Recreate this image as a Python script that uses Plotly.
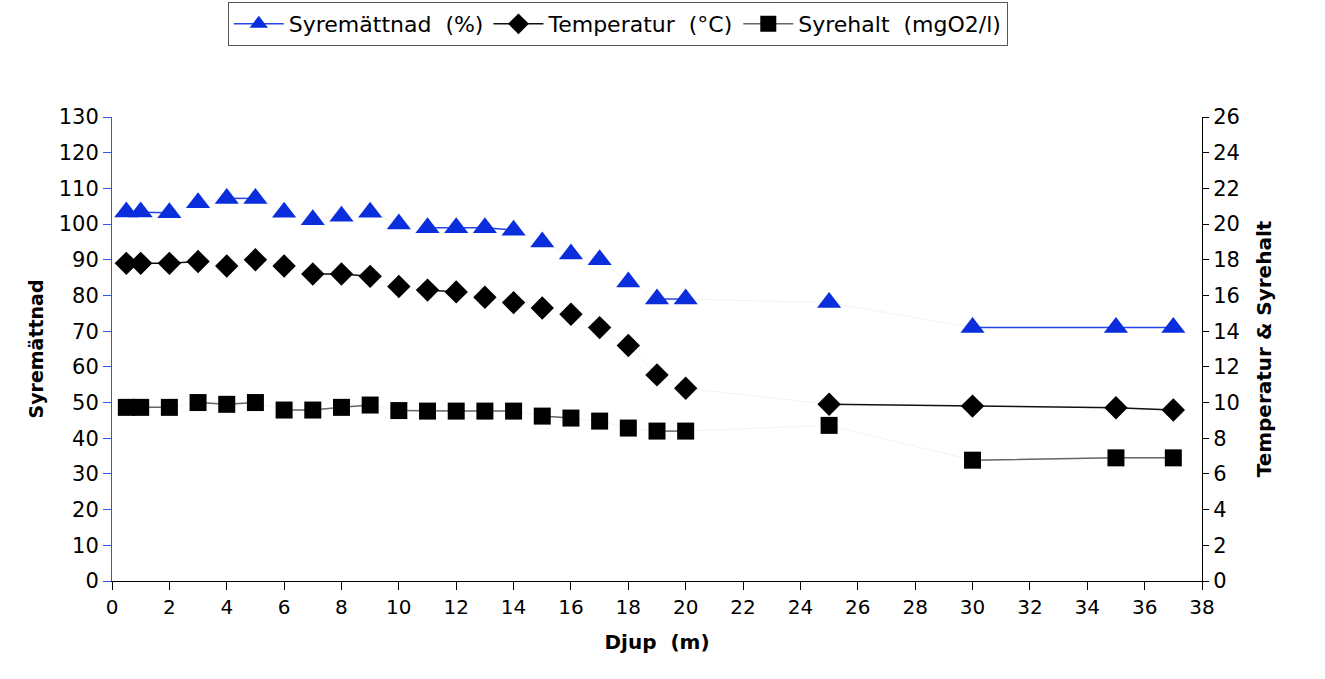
import plotly.graph_objects as go

# ---- data ----
depth = [0.5, 1, 2, 3, 4, 5, 6, 7, 8, 9, 10, 11, 12, 13, 14, 15, 16, 17, 18, 19, 20, 25, 30, 35, 37]
syremattnad = [103.4, 103.4, 103.2, 106.0, 107.2, 107.2, 103.3, 101.2, 102.2, 103.3, 100.0, 99.0,
               99.0, 99.0, 98.3, 95.0, 91.6, 90.0, 83.8, 79.0, 79.0, 78.0, 71.0, 71.0, 71.0]
temperatur = [17.8, 17.8, 17.8, 17.9, 17.65, 18.0, 17.65, 17.2, 17.2, 17.07, 16.5, 16.3,
              16.2, 15.9, 15.6, 15.3, 14.95, 14.2, 13.2, 11.55, 10.8, 9.9, 9.8, 9.71, 9.58]
syrehalt = [9.73, 9.73, 9.73, 10.0, 9.9, 10.0, 9.58, 9.58, 9.73, 9.86, 9.55, 9.52,
            9.52, 9.52, 9.52, 9.24, 9.13, 8.96, 8.57, 8.4, 8.4, 8.72, 6.77, 6.9, 6.9]

x_ticks = list(range(0, 39, 2))
font = "DejaVu Sans, Verdana, sans-serif"

# pixel scales used only to decide which connecting segments render visibly
PX_LEFT = 3.57
PX_RIGHT = 17.88


def gapped(xs, ys, px_y, thresh=3.0):
    """Insert gaps where the connecting segment is steep (those render near-invisible)."""
    gx, gy = [xs[0]], [ys[0]]
    for i in range(1, len(xs)):
        dy = abs(ys[i] - ys[i - 1]) * px_y
        if dy > thresh:
            gx.append(None)
            gy.append(None)
        gx.append(xs[i])
        gy.append(ys[i])
    return gx, gy


fig = go.Figure()

series = [
    ("Syremättnad  (%)", syremattnad, "y", PX_LEFT, "triangle-up", 21, "#0A2EDC", "#2846E6"),
    ("Temperatur  (°C)", temperatur, "y2", PX_RIGHT, "diamond", 18, "#000000", "#111111"),
    ("Syrehalt  (mgO2/l)", syrehalt, "y2", PX_RIGHT, "square", 17, "#000000", "#666666"),
]

for name, vals, yax, pxy, sym, size, mcol, lcol in series:
    fig.add_trace(go.Scatter(
        x=depth, y=vals, yaxis=yax, mode="lines",
        line=dict(color="#F3F3F3", width=1), showlegend=False, hoverinfo="skip"))

for name, vals, yax, pxy, sym, size, mcol, lcol in series:
    gx, gy = gapped(depth, vals, pxy)
    fig.add_trace(go.Scatter(
        x=gx, y=gy, yaxis=yax, mode="lines+markers", name=name,
        line=dict(color=lcol, width=1.5),
        marker=dict(symbol=sym, size=size, color=mcol, line=dict(width=0)),
        connectgaps=False))

fig.update_layout(
    width=1325, height=679,
    paper_bgcolor="white", plot_bgcolor="white",
    margin=dict(l=112, r=123, t=117, b=98),
    font=dict(family=font, size=20, color="black"),
    showlegend=True,
    legend=dict(orientation="h", x=0.464, xanchor="center", y=0.997, yanchor="top",
                yref="container", bordercolor="#555555", borderwidth=1,
                font=dict(size=22), itemwidth=50, tracegroupgap=0),
    xaxis=dict(range=[0, 38], tickvals=x_ticks, ticks="outside", ticklen=8, tickcolor="black",
               showline=True, linecolor="black", linewidth=1, showgrid=False, zeroline=False,
               tickfont=dict(size=20),
               title=dict(text="<b>Djup  (m)</b>", font=dict(size=20), standoff=16)),
    yaxis=dict(range=[0, 130], dtick=10, ticks="outside", ticklen=8, tickcolor="#3355EE",
               showline=True, linecolor="#3355EE", linewidth=1, showgrid=False, zeroline=False,
               tickfont=dict(size=21),
               title=dict(text="<b>Syremättnad</b>", font=dict(size=19), standoff=10)),
    yaxis2=dict(range=[0, 26], dtick=2, ticks="outside", ticklen=6, tickcolor="black",
                overlaying="y", side="right", showline=True, linecolor="black", linewidth=1,
                showgrid=False, zeroline=False, tickfont=dict(size=21),
                title=dict(text="<b>Temperatur & Syrehalt</b>", font=dict(size=20), standoff=18)),
)

fig.write_html("out.html")
